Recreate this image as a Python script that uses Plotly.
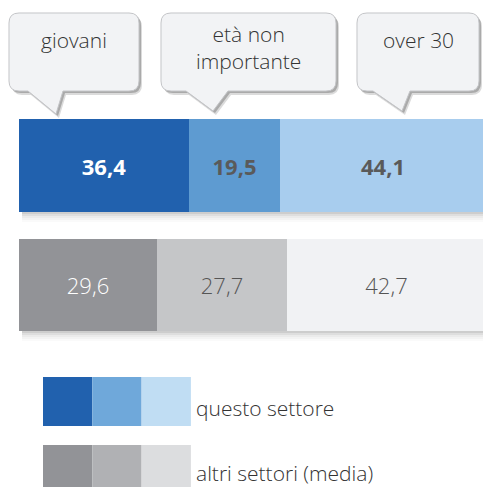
import plotly.graph_objects as go

# --- data ---------------------------------------------------------------
rows = ["altri settori (media)", "questo settore"]
age_groups = ["giovani", "età non<br>importante", "over 30"]
questo_settore = [36.4, 19.5, 44.1]
altri_settori = [29.6, 27.7, 42.7]

# --- styling ------------------------------------------------------------
blue_bars = ["#2161AE", "#5E9BD1", "#A8CDEE"]
grey_bars = ["#929397", "#C5C6C8", "#F1F2F4"]
blue_keys = ["#2161AE", "#6FA8DA", "#C0DDF3"]
grey_keys = ["#929397", "#B0B1B4", "#DCDDDF"]
top_text_colors = ["#FFFFFF", "#5A5A5A", "#5A5A5A"]
bottom_text_colors = ["#FFFFFF", "#555555", "#555555"]

W, H = 483, 487
FONT = "'Open Sans', Lato, sans-serif"


def px(x):
    return x / W


def py(y):
    return 1 - y / H


fig = go.Figure()

for i in range(3):
    fig.add_trace(go.Bar(
        y=rows,
        x=[altri_settori[i], questo_settore[i]],
        orientation="h",
        width=0.775,
        marker=dict(color=[grey_bars[i], blue_bars[i]], line=dict(width=0)),
        texttemplate=["%{x:.1f}", "<b>%{x:.1f}</b>"],
        textposition="inside",
        insidetextanchor="middle",
        insidetextfont=dict(family=FONT, size=22, weight=300,
                            color=[bottom_text_colors[i], top_text_colors[i]]),
        hoverinfo="skip",
        showlegend=False,
    ))

shapes = []

# soft shadow under each bar
for y_bottom in (212, 331):
    for k, op in enumerate([0.30, 0.20, 0.12, 0.07, 0.03]):
        shapes.append(dict(
            type="rect", xref="paper", yref="paper", layer="below",
            x0=px(22), x1=1, y0=py(y_bottom + 2 * k + 2), y1=py(y_bottom + 2 * k),
            fillcolor=f"rgba(90,90,90,{op})", line=dict(width=0),
        ))


def bubble_path(x0, y0, x1, y1, tail_l, tail_r, tip, r=10, dx=0, dy=0):
    """Rounded callout box with a downward tail, pixel coords -> paper path."""
    def P(x, y):
        return f"{px(x + dx):.5f},{py(y + dy):.5f}"
    return (
        f"M{P(x0 + r, y0)} L{P(x1 - r, y0)} Q{P(x1, y0)} {P(x1, y0 + r)} "
        f"L{P(x1, y1 - r)} Q{P(x1, y1)} {P(x1 - r, y1)} "
        f"L{P(tail_r, y1)} L{P(*tip)} L{P(tail_l, y1)} "
        f"L{P(x0 + r, y1)} Q{P(x0, y1)} {P(x0, y1 - r)} "
        f"L{P(x0, y0 + r)} Q{P(x0, y0)} {P(x0 + r, y0)} Z"
    )


bubbles = [
    dict(box=(9, 13, 139, 91), tail=(28, 63), tip=(56, 114)),
    dict(box=(161, 13, 336, 91), tail=(186, 228), tip=(213, 111)),
    dict(box=(357, 13, 479, 91), tail=(373, 410), tip=(402, 111)),
]

for b in bubbles:
    x0, y0, x1, y1 = b["box"]
    for dx, dy, col in [(3, 4, "rgba(110,110,110,0.25)"), (2, 2, "rgba(110,110,110,0.45)")]:
        shapes.append(dict(
            type="path", xref="paper", yref="paper",
            path=bubble_path(x0, y0, x1, y1, *b["tail"], b["tip"], dx=dx, dy=dy),
            fillcolor=col, line=dict(width=0),
        ))
    shapes.append(dict(
        type="path", xref="paper", yref="paper",
        path=bubble_path(x0, y0, x1, y1, *b["tail"], b["tip"]),
        fillcolor="#F2F3F5", line=dict(color="#C4C5C8", width=1),
    ))

# legend keys
key_rows = [(blue_keys, 377, 426), (grey_keys, 445, 492)]
for colors, ya, yb in key_rows:
    for j, c in enumerate(colors):
        shapes.append(dict(
            type="rect", xref="paper", yref="paper",
            x0=px(43 + 49.3 * j), x1=px(43 + 49.3 * (j + 1)), y0=py(yb), y1=py(ya),
            fillcolor=c, line=dict(width=0),
        ))

annotations = []
label_pos = [(74, 40), (248, 47), (418, 40)]
for text, (x, y) in zip(age_groups, label_pos):
    annotations.append(dict(
        xref="paper", yref="paper", x=px(x), y=py(y), text=text,
        showarrow=False, xanchor="center", yanchor="middle",
        font=dict(family=FONT, size=21, weight=300, color="#333333"),
    ))

for text, y in [(rows[1], 408), (rows[0], 473)]:
    annotations.append(dict(
        xref="paper", yref="paper", x=px(194), y=py(y), text=text,
        showarrow=False, xanchor="left", yanchor="middle",
        font=dict(family=FONT, size=21, weight=300, color="#333333"),
    ))

fig.update_layout(
    width=W, height=H,
    margin=dict(l=0, r=0, t=0, b=0),
    paper_bgcolor="white", plot_bgcolor="white",
    barmode="stack",
    bargap=0,
    separators=",.",
    uniformtext=dict(minsize=22, mode="show"),
    xaxis=dict(domain=[px(19), 1], range=[0, 99.36], visible=False, fixedrange=True),
    yaxis=dict(categoryorder="array", categoryarray=rows,
               range=[-1.690, 2.385], visible=False, fixedrange=True),
    shapes=shapes,
    annotations=annotations,
    showlegend=False,
)

fig.write_html("out.html")
